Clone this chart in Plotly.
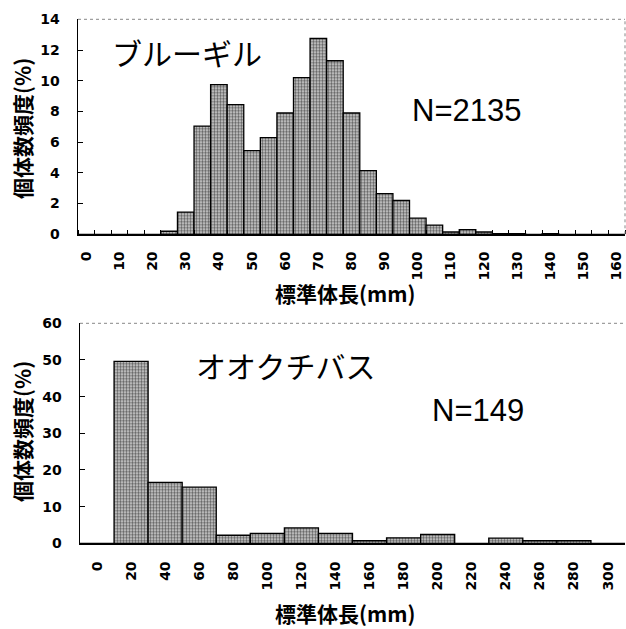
import plotly.graph_objects as go

# ---- Data: top panel (Bluegill), 5 mm classes ----
bg_classes = list(range(0, 165, 5))
bg_freq = [0, 0, 0, 0, 0, 0.2, 1.45, 7.05, 9.75, 8.45, 5.45, 6.3, 7.9, 10.2, 12.75,
           11.3, 7.9, 4.15, 2.65, 2.2, 1.05, 0.6, 0.15, 0.3, 0.15, 0.05, 0.05, 0,
           0.05, 0, 0, 0, 0]
bg_ticks = list(range(0, 170, 10))

# ---- Data: bottom panel (Largemouth bass), 20 mm classes ----
lmb_classes = list(range(0, 320, 20))
lmb_freq = [0, 49.6, 16.6, 15.3, 2.2, 2.7, 4.2, 2.7, 0.7, 1.5, 2.4, 0, 1.4, 0.7, 0.7, 0]
lmb_ticks = list(range(0, 320, 20))

W, H = 626, 629
def px(x):
    return x / W
def py(y):
    return 1 - y / H

bar_marker = dict(
    color="#b8b8b8",
    line=dict(color="black", width=1.3),
    pattern=dict(shape=".", size=3, solidity=0.5, fgcolor="#606060", bgcolor="#d4d4d4"),
)

fig = go.Figure()
fig.add_trace(go.Bar(x=bg_classes, y=bg_freq, width=5, marker=bar_marker,
                     xaxis="x", yaxis="y", showlegend=False, hoverinfo="skip"))
fig.add_trace(go.Bar(x=lmb_classes, y=lmb_freq, width=20, marker=bar_marker,
                     xaxis="x2", yaxis="y2", showlegend=False, hoverinfo="skip"))

tickfont = dict(family="DejaVu Sans", size=14, color="black", weight="bold")

fig.update_layout(
    template="none",
    width=W, height=H,
    margin=dict(l=0, r=0, t=0, b=0, pad=0),
    paper_bgcolor="white", plot_bgcolor="white",
    bargap=0,
    xaxis=dict(
        domain=[px(78), px(625)], anchor="y", automargin=False,
        range=[-2.5, 162.5], tickmode="array", tickvals=bg_ticks,
        ticktext=[str(v) for v in bg_ticks],
        tickangle=-90, ticks="", ticklabelstandoff=10,
        tickfont=tickfont, showgrid=False, zeroline=False,
        showline=True, linecolor="black", linewidth=1.5,
        minor=dict(tick0=-2.5, dtick=5, ticks="inside", ticklen=4,
                   tickcolor="black", tickwidth=1, showgrid=False),
    ),
    yaxis=dict(
        domain=[py(234.3), py(19.3)], anchor="x", automargin=False,
        range=[0, 14], dtick=2, ticks="inside", ticklen=5, tickcolor="black",
        tickfont=tickfont, showgrid=False, zeroline=False, ticklabelstandoff=14,
        showline=True, linecolor="black", linewidth=1.5,
    ),
    xaxis2=dict(
        domain=[px(80), px(625)], anchor="y2", automargin=False,
        range=[-10, 310], tickmode="array", tickvals=lmb_ticks,
        ticktext=[str(v) for v in lmb_ticks],
        tickangle=-90, ticks="", ticklabelstandoff=11,
        tickfont=tickfont, showgrid=False, zeroline=False,
        showline=True, linecolor="black", linewidth=1.5,
    ),
    yaxis2=dict(
        domain=[py(543.3), py(323.3)], anchor="x2", automargin=False,
        range=[0, 60], dtick=10, ticks="inside", ticklen=5, tickcolor="black",
        tickfont=tickfont, showgrid=False, zeroline=False, ticklabelstandoff=14,
        showline=True, linecolor="black", linewidth=1.5,
    ),
)

# dotted plot-area borders
dot = dict(color="#888888", width=1, dash="dot")
fig.add_shape(type="line", xref="x domain", yref="y domain", x0=0, x1=1, y0=1, y1=1, line=dot)
fig.add_shape(type="line", xref="x domain", yref="y domain", x0=1, x1=1, y0=0, y1=1, line=dot)
fig.add_shape(type="line", xref="x2 domain", yref="y2 domain", x0=0, x1=1, y0=1, y1=1, line=dot)

title_font = dict(family="Noto Sans CJK JP", size=21, color="black", weight="bold")
label_font = dict(family="Noto Sans CJK JP", size=30, color="black")
n_font = dict(family="Liberation Sans", size=31, color="black")

annos = [
    dict(text="標準体長(mm)", x=px(345), y=py(293), font=title_font),
    dict(text="標準体長(mm)", x=px(345), y=py(613), font=title_font),
    dict(text="個体数頻度(%)", x=px(22), y=py(129), font=title_font, textangle=-90),
    dict(text="個体数頻度(%)", x=px(22), y=py(432), font=title_font, textangle=-90),
    dict(text="ブルーギル", x=px(187), y=py(52), font=label_font),
    dict(text="オオクチバス", x=px(285), y=py(365), font=label_font),
    dict(text="N=2135", x=px(466), y=py(110), font=n_font),
    dict(text="N=149", x=px(478), y=py(410), font=n_font),
]
for a in annos:
    fig.add_annotation(xref="paper", yref="paper", xanchor="center", yanchor="middle",
                       showarrow=False, **a)

fig.write_html("out.html",
               config={"displayModeBar": False, "staticPlot": True},
               post_script="document.body.style.margin='0';document.body.style.overflow='hidden';")
